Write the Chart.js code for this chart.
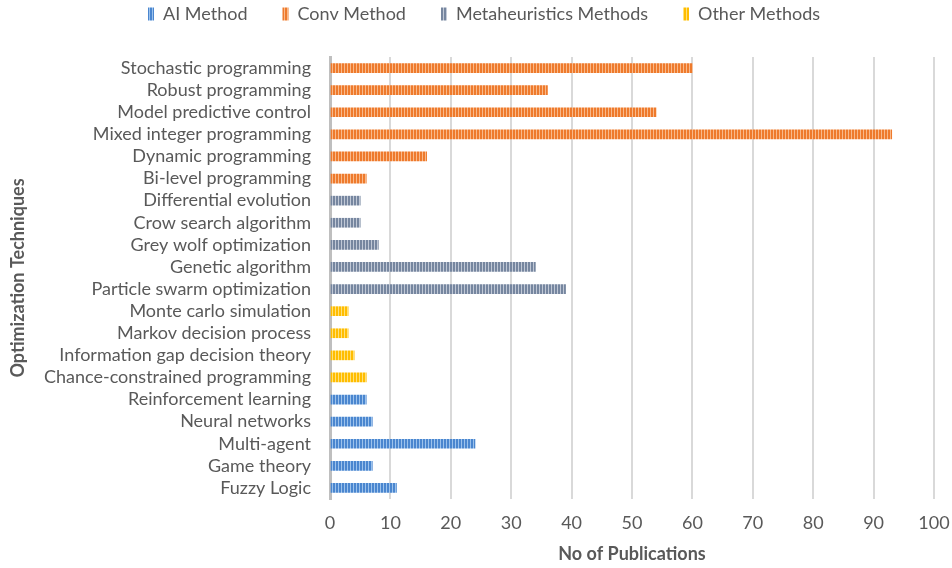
<!DOCTYPE html>
<html>
<head>
<meta charset="utf-8">
<script src="https://cdn.jsdelivr.net/npm/chart.js@4.4.1/dist/chart.umd.min.js"></script>
<style>
  html, body { margin: 0; padding: 0; background: #ffffff; }
  #wrap { width: 952px; height: 568px; }
</style>
</head>
<body>
<div id="wrap"><canvas id="c" width="952" height="568"></canvas></div>
<script>
// Optimization techniques, listed top to bottom
const techniques = [
  'Stochastic programming', 'Robust programming', 'Model predictive control',
  'Mixed integer programming', 'Dynamic programming', 'Bi-level programming',
  'Differential evolution', 'Crow search algorithm', 'Grey wolf optimization',
  'Genetic algorithm', 'Particle swarm optimization', 'Monte carlo simulation',
  'Markov decision process', 'Information gap decision theory',
  'Chance-constrained programming', 'Reinforcement learning', 'Neural networks',
  'Multi-agent', 'Game theory', 'Fuzzy Logic'
];

// Number of publications per technique, split by method family
const aiMethod     = [null, null, null, null, null, null, null, null, null, null, null, null, null, null, null, 6, 7, 24, 7, 11];
const convMethod   = [60, 36, 54, 93, 16, 6, null, null, null, null, null, null, null, null, null, null, null, null, null, null];
const metaMethods  = [null, null, null, null, null, null, 5, 5, 8, 34, 39, null, null, null, null, null, null, null, null, null];
const otherMethods = [null, null, null, null, null, null, null, null, null, null, null, 3, 3, 4, 6, null, null, null, null, null];

const seriesNames = ['AI Method', 'Conv Method', 'Metaheuristics Methods', 'Other Methods'];
const xTicks = [0, 10, 20, 30, 40, 50, 60, 70, 80, 90, 100];

// Vertical-stripe fill used for every bar
function stripes(dark, light) {
  const p = document.createElement('canvas');
  p.width = 3; p.height = 4;
  const g = p.getContext('2d');
  g.fillStyle = light; g.fillRect(0, 0, 3, 4);
  g.fillStyle = dark;  g.fillRect(0, 0, 2, 4);
  return g.createPattern(p, 'repeat');
}

const fills = [
  stripes('#4a86cf', '#9cc2ec'),
  stripes('#ee7a2c', '#f9b98a'),
  stripes('#76869f', '#c0c8d6'),
  stripes('#ffbd00', '#ffe07a')
];

const seriesData = [aiMethod, convMethod, metaMethods, otherMethods];

const textColor = '#595959';
const font = "'Lato', 'Open Sans', sans-serif";

// Leave a gap between the legend row and the plot area
const legendGap = {
  id: 'legendGap',
  afterInit(chart) {
    const lg = chart.legend;
    if (!lg) return;
    const fit = lg.fit.bind(lg);
    lg.fit = function () { fit(); this.height += 24; };
  }
};

new Chart(document.getElementById('c'), {
  type: 'bar',
  data: {
    labels: techniques,
    datasets: seriesNames.map((name, i) => ({
      label: name,
      data: seriesData[i],
      backgroundColor: fills[i],
      borderWidth: 0,
      barThickness: 9
    }))
  },
  plugins: [legendGap],
  options: {
    indexAxis: 'y',
    responsive: false,
    animation: false,
    layout: { padding: { top: -30, right: 6, bottom: 0, left: 22 } },
    plugins: {
      legend: {
        position: 'top',
        labels: {
          color: textColor,
          font: { family: font, size: 18 },
          boxWidth: 6,
          boxHeight: 13,
          padding: 35
        }
      },
      tooltip: { enabled: false }
    },
    scales: {
      x: {
        stacked: true,
        min: 0, max: 100,
        afterBuildTicks: axis => { axis.ticks = xTicks.map(v => ({ value: v })); },
        afterFit: axis => { axis.height = 69; axis.paddingRight = 18; },
        grid: { color: '#d9d9d9', lineWidth: 2, drawTicks: false },
        border: { display: false },
        ticks: { color: textColor, font: { family: font, size: 18 }, padding: 13 },
        title: {
          display: true, text: 'No of Publications', color: textColor,
          font: { family: font, size: 18, weight: 'bold' }, padding: { top: 0, bottom: 3 }
        }
      },
      y: {
        stacked: true,
        afterFit: axis => { axis.width = 308; },
        grid: { display: false, drawTicks: false },
        border: { display: true, color: '#bfbfbf', width: 3 },
        ticks: { color: textColor, font: { family: font, size: 18 }, padding: 19, autoSkip: false },
        title: {
          display: true, text: 'Optimization Techniques', color: textColor,
          font: { family: font, size: 18, weight: 'bold' }, padding: { top: -15, bottom: 0 }
        }
      }
    }
  }
});
</script>
</body>
</html>
